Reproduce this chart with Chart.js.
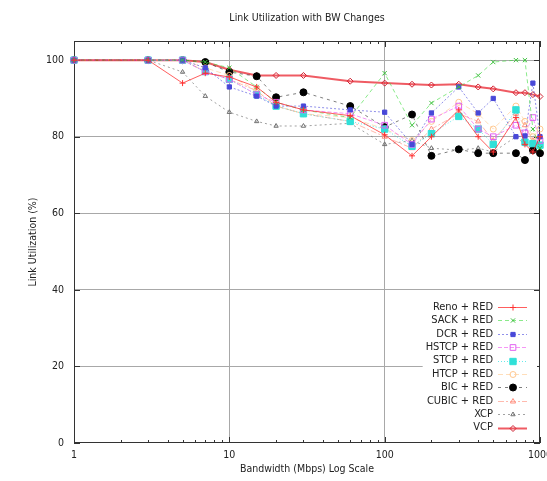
<!DOCTYPE html>
<html><head><meta charset="utf-8">
<script src="https://cdn.jsdelivr.net/npm/chart.js@4.4.1/dist/chart.umd.min.js"></script>
<style>html,body{margin:0;padding:0;background:#fff}#wrap{width:547px;height:481px}</style>
</head><body><div id="wrap"><canvas id="c" width="547" height="481"></canvas></div>
<script>
// ---- data ----
const bandwidth = [1, 3, 5, 7, 10, 15, 20, 30, 60, 100, 150, 200, 300, 400, 500, 700, 800, 900, 1000];
const renoRed  = [100, 100, 94, 96.6, 95.6, 93, 89, 87, 85.5, 80.5, 75, 80, 87, 80, 76, 85, 78, 76, 80];
const sackRed  = [100, 100, 100, 99.5, 98, 93, 89, 87, 85, 96.6, 83, 88.8, 93, 96, 99.5, 100, 100, 82, 77];
const dcrRed   = [100, 100, 100, 98, 93, 90.6, 88, 88, 87, 86.4, 78, 86.2, 93, 86.2, 90, 80, 80.2, 94, 80];
const hstcpRed = [100, 100, 100, 97, 95, 91, 89, 87, 86, 83, 78, 84.6, 88, 82, 80, 83, 81, 85, 79];
const stcpRed  = [100, 100, 100, 97, 95, 91, 88, 86, 84, 82, 77.5, 80.8, 85.3, 82, 78, 87, 78.6, 78.2, 77.8];
const htcpRed  = [100, 100, 100, 98, 96, 92, 88, 86, 85, 82, 79, 84, 89, 86, 82, 88, 84, 80, 82];
const bicRed   = [100, 100, 100, 99.5, 96.9, 95.8, 90.3, 91.6, 88, 82.5, 85.8, 75, 76.7, 75.7, 75.7, 75.7, 73.9, 76.5, 75.7];
const cubicRed = [100, 100, 100, 97, 95, 92, 88, 86, 84, 80, 77, 82, 86, 84, 79, 86, 83, 79, 80];
const xcp      = [100, 100, 96.9, 90.6, 86.4, 84, 82.8, 82.8, 83.5, 78, 79, 77, 76.5, 77, 76, 80, 78, 77, 76];
const vcp      = [100, 100, 100, 99.5, 97.5, 96, 96, 96, 94.5, 94, 93.7, 93.5, 93.7, 93, 92.5, 91.5, 91.5, 91, 90.5];
const seriesNames = ['Reno + RED', 'SACK + RED', 'DCR + RED', 'HSTCP + RED', 'STCP + RED', 'HTCP + RED', 'BIC + RED', 'CUBIC + RED', 'XCP', 'VCP'];
const seriesValues = [renoRed, sackRed, dcrRed, hstcpRed, stcpRed, htcpRed, bicRed, cubicRed, xcp, vcp];
const xMajorTicks = [1, 10, 100, 1000];
const yTickValues = [0, 20, 40, 60, 80, 100];
const chartTitle = 'Link Utilization with BW Changes';
const xTitle = 'Bandwidth (Mbps) Log Scale';
const yTitle = 'Link Utilization (%)';

// ---- styles ----
const FONT = "'Liberation Sans Narrow', 'DejaVu Sans Condensed', 'Liberation Sans', sans-serif";
const styles = [
  {c: 'rgba(255,40,40,0.75)',  pc: '#ff3030', ps: 'cross',    r: 3,   w: 1, dash: []},
  {c: 'rgba(60,220,60,0.6)',   pc: '#40c040', ps: 'crossRot', r: 3,   w: 1, dash: [4, 3]},
  {c: 'rgba(70,70,220,0.6)',   pc: '#4848d8', ps: 'rect',     r: 3,   w: 1, dash: [2, 2], fill: true},
  {c: 'rgba(240,80,240,0.6)',  pc: '#e060f0', ps: 'rect',     r: 4,   w: 1, dash: [4, 2]},
  {c: 'rgba(0,220,220,0.6)',   pc: '#30e0d8', ps: 'rect',     r: 4.5, w: 1, dash: [1, 2], fill: true},
  {c: 'rgba(255,200,140,0.6)', pc: '#ffc890', ps: 'circle',   r: 3,   w: 1, dash: [5, 3]},
  {c: 'rgba(20,20,20,0.55)',   pc: '#000000', ps: 'circle',   r: 3.5, w: 1, dash: [3, 4], fill: true},
  {c: 'rgba(255,140,120,0.6)', pc: '#ff9080', ps: 'triangle', r: 3,   w: 1, dash: [6, 2, 2, 2]},
  {c: 'rgba(110,110,110,0.65)',pc: '#707070', ps: 'triangle', r: 2.5, w: 1, dash: [2, 3]},
  {c: 'rgba(235,50,60,0.8)',   pc: '#d02030', ps: 'rectRot',  r: 3,   w: 2, dash: []}
];

const datasets = seriesNames.map((name, i) => ({
  label: name,
  data: bandwidth.map((b, j) => ({x: b, y: seriesValues[i][j]})),
  borderColor: styles[i].c,
  borderWidth: styles[i].w,
  borderDash: styles[i].dash,
  pointStyle: styles[i].ps,
  pointRadius: styles[i].r,
  pointBorderColor: styles[i].pc,
  pointBackgroundColor: styles[i].fill ? styles[i].pc : 'rgba(0,0,0,0)',
  pointBorderWidth: 1,
  tension: 0,
  clip: 8
}));

const minorTicks = [];
for (let d = 1; d < 1000; d *= 10) for (let k = 2; k <= 9; k++) minorTicks.push(k * d);

const framePlugin = {
  id: 'frame',
  beforeDatasetsDraw(chart) {
    const {ctx, chartArea: a, scales} = chart;
    ctx.save();
    ctx.strokeStyle = '#333';
    ctx.lineWidth = 1;
    ctx.strokeRect(a.left + 0.5, a.top + 0.5, a.right - a.left - 1, a.bottom - a.top - 1);
    ctx.beginPath();
    const xs = scales.x, ys = scales.y;
    xMajorTicks.forEach(v => {
      const px = Math.round(xs.getPixelForValue(v)) + 0.5;
      ctx.moveTo(px, a.bottom); ctx.lineTo(px, a.bottom - 6);
      ctx.moveTo(px, a.top); ctx.lineTo(px, a.top + 6);
    });
    minorTicks.forEach(v => {
      const px = Math.round(xs.getPixelForValue(v)) + 0.5;
      ctx.moveTo(px, a.bottom); ctx.lineTo(px, a.bottom - 3);
      ctx.moveTo(px, a.top); ctx.lineTo(px, a.top + 3);
    });
    yTickValues.forEach(v => {
      const py = Math.round(ys.getPixelForValue(v)) + 0.5;
      ctx.moveTo(a.left, py); ctx.lineTo(a.left + 6, py);
      ctx.moveTo(a.right, py); ctx.lineTo(a.right - 6, py);
    });
    ctx.stroke();
    // title, centred over the plot area
    ctx.fillStyle = '#222';
    ctx.font = '10.5px ' + FONT;
    ctx.textAlign = 'center';
    ctx.textBaseline = 'middle';
    ctx.fillText(chartTitle, (a.left + a.right) / 2, 18);
    ctx.restore();
  },
  afterDatasetsDraw(chart) {
    const {ctx, chartArea: a} = chart;
    ctx.save();
    ctx.font = '11px ' + FONT;
    const textRight = a.right - 47;
    const y0 = a.bottom - 136;
    const step = 13.4;
    let maxW = 0;
    chart.data.datasets.forEach(ds => { maxW = Math.max(maxW, ctx.measureText(ds.label).width); });
    ctx.fillStyle = '#fff';
    ctx.fillRect(textRight - maxW - 3, y0 - 8, a.right - 3 - (textRight - maxW - 3), step * 10 + 4);
    chart.data.datasets.forEach((ds, i) => {
      const y = y0 + i * step;
      ctx.fillStyle = '#222';
      ctx.textAlign = 'right';
      ctx.textBaseline = 'middle';
      ctx.fillText(ds.label, textRight, y);
      ctx.save();
      ctx.strokeStyle = ds.borderColor;
      ctx.lineWidth = ds.borderWidth;
      ctx.setLineDash(ds.borderDash);
      ctx.beginPath();
      ctx.moveTo(textRight + 5, Math.round(y) + 0.5);
      ctx.lineTo(textRight + 34, Math.round(y) + 0.5);
      ctx.stroke();
      ctx.setLineDash([]);
      ctx.fillStyle = ds.pointBackgroundColor;
      ctx.strokeStyle = ds.pointBorderColor;
      ctx.lineWidth = 1;
      Chart.helpers.drawPoint(ctx, {pointStyle: ds.pointStyle, radius: ds.pointRadius, borderWidth: 1, rotation: 0}, textRight + 20, Math.round(y) + 0.5);
      ctx.restore();
    });
    ctx.restore();
  }
};

new Chart(document.getElementById('c'), {
  type: 'line',
  data: {datasets},
  plugins: [framePlugin],
  options: {
    responsive: false,
    animation: false,
    devicePixelRatio: 1,
    layout: {padding: {right: 7, top: 41, left: 0, bottom: 0}},
    plugins: {
      legend: {display: false},
      tooltip: {enabled: false},
      title: {display: false}
    },
    scales: {
      x: {
        type: 'logarithmic', min: 1, max: 1000,
        afterBuildTicks(s) { s.ticks = xMajorTicks.map(v => ({value: v})); },
        afterFit(s) { s.height = 38; s.paddingLeft = 0; s.paddingRight = 0; },
        border: {display: false},
        grid: {
          drawTicks: false,
          color: ctx => (ctx.tick && (ctx.tick.value === 10 || ctx.tick.value === 100)) ? '#a8a8a8' : 'rgba(0,0,0,0)',
          lineWidth: 1
        },
        ticks: {
          color: '#222', padding: 6, maxRotation: 0, autoSkip: false,
          font: {family: FONT, size: 10.5},
          callback: v => String(v)
        },
        title: {display: true, text: xTitle, color: '#222', font: {family: FONT, size: 10.5}, padding: {top: 5, bottom: 5}}
      },
      y: {
        type: 'linear', min: 0, max: 105,
        afterBuildTicks(s) { s.ticks = yTickValues.map(v => ({value: v})); },
        afterFit(s) { s.width = 74; s.paddingTop = 0; s.paddingBottom = 0; },
        border: {display: false},
        grid: {
          drawTicks: false,
          color: ctx => (ctx.tick && ctx.tick.value > 0) ? '#a8a8a8' : 'rgba(0,0,0,0)',
          lineWidth: 1
        },
        ticks: {color: '#222', padding: 10, font: {family: FONT, size: 10.5}},
        title: {display: true, text: yTitle, color: '#222', font: {family: FONT, size: 10.5}, padding: {top: 27, bottom: 5}}
      }
    }
  }
});
</script></body></html>
